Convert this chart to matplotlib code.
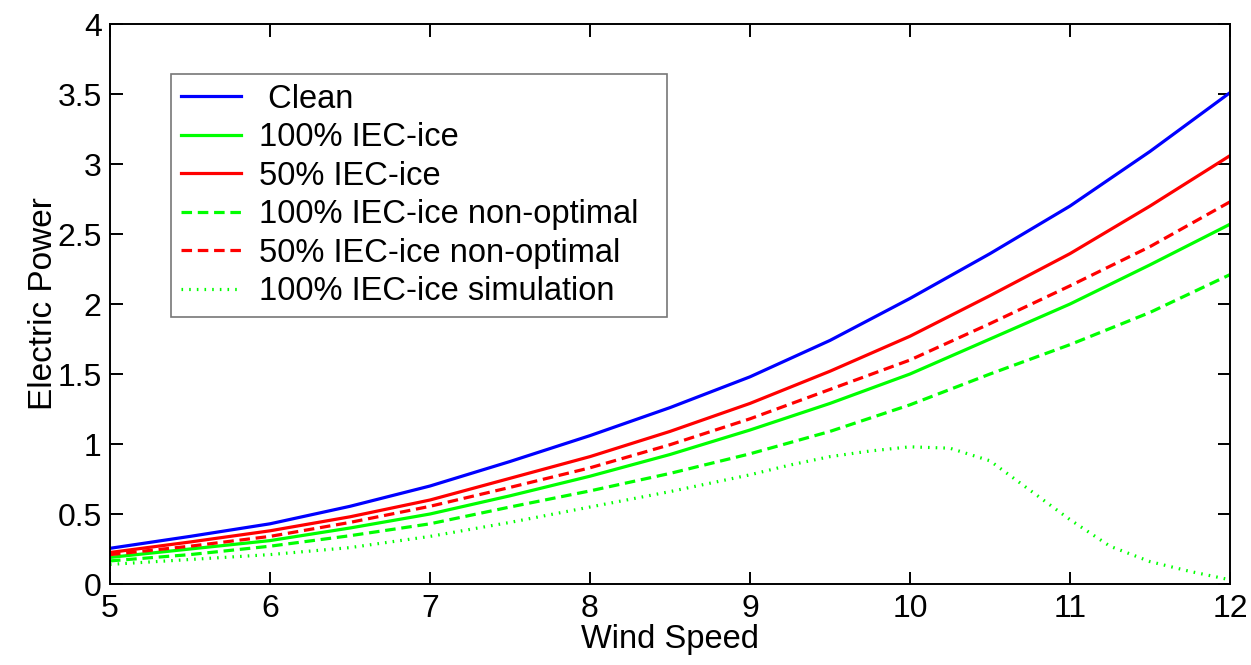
import numpy as np
import matplotlib
matplotlib.use('Agg')
import matplotlib.pyplot as plt

plt.rcParams['font.family'] = ['Liberation Sans', 'DejaVu Sans']

# wind speed sample points
wind = [5, 5.5, 6, 6.5, 7, 7.5, 8, 8.5, 9, 9.5, 10, 10.5, 11, 11.5, 12]

clean = [0.255, 0.34, 0.43, 0.555, 0.70, 0.875, 1.06, 1.26, 1.48, 1.74, 2.04, 2.36, 2.70, 3.09, 3.51]
ice100 = [0.19, 0.25, 0.31, 0.40, 0.50, 0.63, 0.77, 0.925, 1.10, 1.29, 1.50, 1.75, 2.00, 2.28, 2.57]
ice50 = [0.225, 0.30, 0.38, 0.48, 0.60, 0.755, 0.91, 1.09, 1.29, 1.52, 1.77, 2.06, 2.36, 2.70, 3.06]
ice100_nonopt = [0.165, 0.21, 0.27, 0.345, 0.43, 0.55, 0.665, 0.79, 0.93, 1.09, 1.28, 1.50, 1.71, 1.94, 2.21]
ice50_nonopt = [0.21, 0.27, 0.34, 0.44, 0.555, 0.69, 0.83, 0.995, 1.18, 1.39, 1.60, 1.86, 2.13, 2.41, 2.73]

# simulation curve, read finer near the peak
wind_sim = [5, 5.5, 6, 6.5, 7, 7.5, 8, 8.5, 9, 9.25, 9.5, 9.75, 10, 10.25,
            10.5, 10.75, 11, 11.25, 11.5, 11.75, 12]
ice100_sim = [0.14, 0.175, 0.21, 0.26, 0.34, 0.44, 0.55, 0.66, 0.78, 0.85, 0.91, 0.95,
              0.98, 0.97, 0.88, 0.67, 0.46, 0.27, 0.16, 0.09, 0.03]

fig = plt.figure(figsize=(12.51, 6.65), dpi=100)
ax = fig.add_axes([0.0879, 0.1218, 0.8953, 0.842])

lw = 2.3
ax.plot(wind, clean, color='#0000ff', lw=lw, label=' Clean')
ax.plot(wind, ice100, color='#00ff00', lw=lw, label='100% IEC-ice')
ax.plot(wind, ice50, color='#ff0000', lw=lw, label='50% IEC-ice')
ax.plot(wind, ice100_nonopt, color='#00ff00', lw=lw, linestyle=(0, (3.3, 1.8)),
        label='100% IEC-ice non-optimal')
ax.plot(wind, ice50_nonopt, color='#ff0000', lw=lw, linestyle=(0, (3.3, 1.8)),
        label='50% IEC-ice non-optimal')
ax.plot(wind_sim, ice100_sim, color='#00ff00', lw=lw, linestyle=(0, (0.5, 1.9)),
        label='100% IEC-ice simulation')

ax.set_xlim(5, 12)
ax.set_ylim(0, 4)
ax.set_xticks(range(5, 13))
ax.set_yticks(np.arange(0, 4.01, 0.5))
ax.set_yticklabels(['0', '0.5', '1', '1.5', '2', '2.5', '3', '3.5', '4'])

ax.tick_params(direction='in', length=9, width=1.4, labelsize=23,
               top=True, right=True)
ax.tick_params(axis='x', pad=7.5)
ax.tick_params(axis='y', pad=6)
for sp in ax.spines.values():
    sp.set_linewidth(1.4)

ax.set_xlabel('Wind Speed', fontsize=23.5, labelpad=0)
ax.set_ylabel('Electric Power', fontsize=24, labelpad=-1)

# legend box stretched to the width of the original frame
leg = ax.legend(loc='upper left', bbox_to_anchor=(0.0545, 0.482, 0.4425, 0.429),
                mode='expand', fontsize=23.5,
                frameon=True, fancybox=False, edgecolor='#555555',
                handlelength=1.85, handletextpad=0.55, labelspacing=0.23,
                borderpad=0.3, borderaxespad=0)
leg.get_frame().set_linewidth(1.2)

plt.savefig('out.png', dpi=100)
